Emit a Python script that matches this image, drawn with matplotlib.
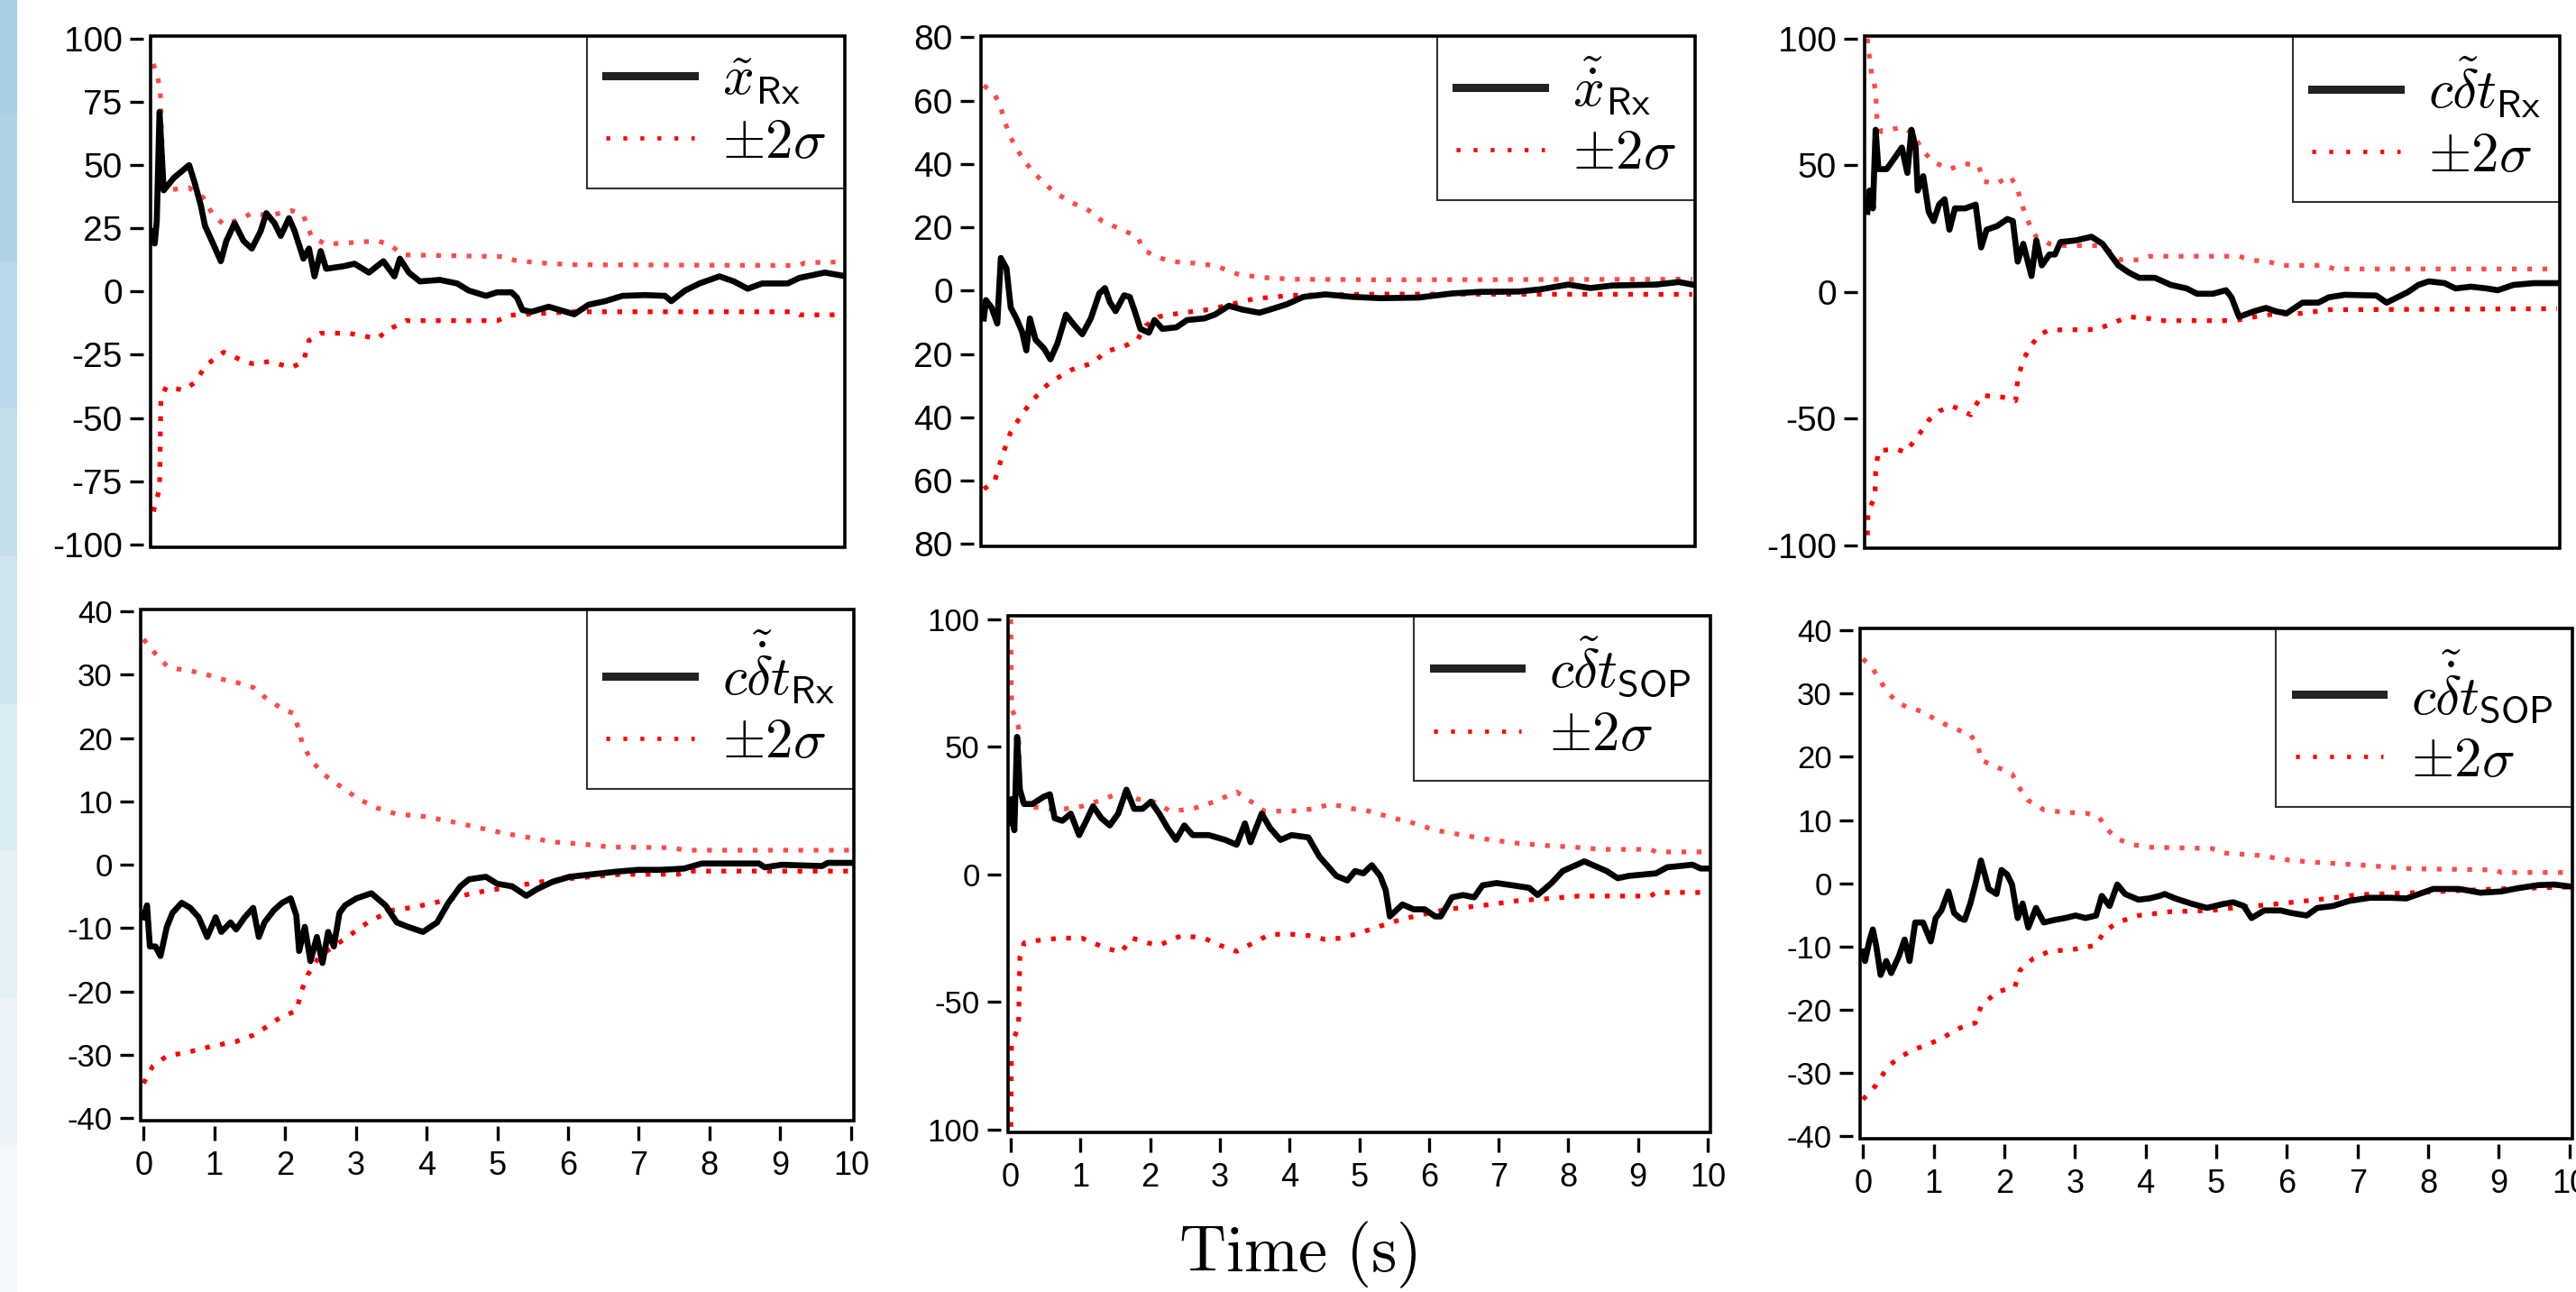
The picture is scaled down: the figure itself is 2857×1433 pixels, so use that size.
import numpy as np
import matplotlib
matplotlib.use("Agg")
import matplotlib.pyplot as plt
from matplotlib.patches import Rectangle
from matplotlib.lines import Line2D

plt.rcParams['mathtext.fontset'] = 'cm'
plt.rcParams['font.family'] = ['Liberation Sans', 'DejaVu Sans']

# ---- panel 1: position error ----
p1_t = [0, 0.02, 0.05, 0.09, 0.15, 0.3, 0.52, 0.6, 0.69, 0.75, 0.85, 0.98, 1.06, 1.18, 1.31, 1.43,
        1.56, 1.64, 1.76, 1.85, 1.97, 2.05, 2.18, 2.26, 2.34, 2.43, 2.51, 2.76, 2.92, 3.13, 3.34, 3.5,
        3.58, 3.71, 3.87, 4.16, 4.41, 4.58, 4.83, 4.99, 5.2, 5.28, 5.36, 5.49, 5.74, 5.99, 6.11, 6.32,
        6.56, 6.81, 7.14, 7.43, 7.52, 7.72, 7.93, 8.22, 8.43, 8.63, 8.84, 9.21, 9.38, 9.75, 10.0]
p1_err = [24, 19, 28, 71, 40, 45, 50, 43, 34, 26, 20, 12, 20, 27, 20, 17, 24, 31, 27, 22, 29, 24,
          13, 17, 6, 16, 9, 10, 11, 7.5, 12, 6, 13, 7.5, 4, 4.6, 3.2, 0.4, -1.7, -0.3, -0.3, -2.4,
          -7.3, -8, -6, -8, -9, -5.2, -3.8, -1.7, -1.4, -1.7, -3.8, 0.4, 3.2, 6, 4, 1.1, 3.2, 3.2,
          5.4, 7.5, 6.3]
p1_up_t = [0, 0.05, 0.1, 0.15, 0.52, 0.73, 0.85, 1.02, 1.27, 1.43, 1.68, 2.01, 2.18, 2.3, 2.51,
           2.92, 3.25, 3.42, 3.63, 5.07, 5.24, 5.57, 6.07, 9.38, 9.46, 10.0]
p1_up = [90, 86, 80, 40, 41, 37, 31, 26.5, 28.6, 31, 30, 32, 30, 21.5, 18.7, 19.4, 20, 18.7, 14.5,
         13.8, 12.4, 11.4, 10.6, 10.3, 11.4, 11.7]
p1_lo_t = [0, 0.09, 0.11, 0.19, 0.44, 0.6, 0.77, 1.02, 1.27, 1.43, 1.68, 2.01, 2.18, 2.26, 2.43,
           2.84, 3.25, 3.42, 3.67, 5.0, 5.16, 6.07, 9.3, 9.38, 10.0]
p1_lo = [-87, -78, -42, -37.6, -39, -36, -29, -24, -27, -28.5, -27.7, -30, -27.7, -19.3, -16.5,
         -16.5, -18.6, -15, -11.5, -11.5, -9.4, -8, -8, -9.2, -9.2]

# ---- panel 2: velocity error ----
p2_t = [0, 0.03, 0.11, 0.19, 0.24, 0.32, 0.38, 0.46, 0.54, 0.6, 0.65, 0.73, 0.85, 0.94, 1.04, 1.16,
        1.28, 1.39, 1.51, 1.63, 1.71, 1.78, 1.86, 1.98, 2.06, 2.13, 2.21, 2.33, 2.41, 2.52, 2.72,
        2.87, 3.11, 3.26, 3.46, 3.65, 3.89, 4.04, 4.28, 4.51, 4.82, 5.21, 5.6, 6.14, 6.61, 7.0, 7.55,
        7.86, 8.25, 8.56, 8.87, 9.49, 9.81, 10.0]
p2_err = [-8.8, -3, -5.4, -10.4, 10.3, 7, -5.4, -8.8, -13, -18.9, -8.8, -15.5, -18.3, -21.7, -16.6,
          -7.6, -11, -13.8, -8.8, -0.9, 0.8, -3.7, -6.5, -1.5, -2, -6.5, -12.1, -13.3, -9.3, -12.1,
          -11.6, -9.3, -8.8, -7.6, -4.8, -6, -7, -6, -4.3, -2, -1.2, -2, -2.4, -2.2, -0.9, -0.4,
          -0.3, 0.4, 1.9, 0.8, 1.6, 1.9, 2.7, 1.9]
p2_up_t = [0, 0.15, 0.23, 0.3, 0.42, 0.58, 0.73, 0.85, 1.0, 1.24, 1.47, 1.67, 1.94, 2.17, 2.25,
           2.41, 2.64, 2.95, 3.26, 3.57, 3.89, 4.35, 5.6, 10.0]
p2_up = [64.8, 62, 58.7, 53, 46.3, 40.7, 36.7, 34, 31, 27.8, 25.5, 22, 19.3, 17, 13, 10.9, 9.2,
         8.7, 7.9, 5.3, 4.2, 3.6, 3.4, 3.6]
p2_lo_t = [0, 0.15, 0.27, 0.38, 0.54, 0.69, 0.93, 1.24, 1.55, 1.71, 2.02, 2.17, 2.29, 2.48, 2.8,
           3.18, 3.5, 3.81, 4.35, 5.6, 10.0]
p2_lo = [-62.7, -60.4, -51.5, -44.7, -39, -34.6, -29, -25, -22.8, -19.4, -17.2, -15.5, -11, -8.2,
         -7, -6, -4.3, -2.6, -1.5, -1.1, -1.2]

# ---- panel 3: receiver clock bias error ----
p3_t = [0, 0.03, 0.08, 0.12, 0.16, 0.28, 0.39, 0.5, 0.58, 0.64, 0.7, 0.73, 0.81, 0.89, 0.96, 1.04,
        1.12, 1.19, 1.27, 1.42, 1.57, 1.65, 1.73, 1.88, 2.03, 2.11, 2.18, 2.26, 2.38, 2.45, 2.53,
        2.64, 2.72, 2.8, 3.03, 3.25, 3.41, 3.56, 3.64, 3.79, 3.94, 4.17, 4.4, 4.63, 4.78, 5.01, 5.2,
        5.28, 5.39, 5.62, 5.78, 5.93, 6.08, 6.31, 6.54, 6.69, 6.92, 7.38, 7.53, 7.84, 7.99, 8.14,
        8.37, 8.53, 8.75, 8.98, 9.14, 9.37, 9.67, 10.0]
p3_err = [31.6, 40, 33, 64, 48.5, 48.5, 52.7, 57, 47, 64, 57, 40, 45.7, 31.6, 28, 34.5, 36.6, 24.6,
          33, 33, 34.5, 17.6, 24.6, 26, 28.8, 28, 12, 19, 6.3, 20.4, 10.5, 14.8, 14.8, 19.7, 20.4,
          21.8, 19, 13.4, 10.5, 7.7, 5.6, 5.6, 2.8, 1.4, -0.7, -0.7, 0.7, -2.1, -9.8, -7.5, -6.3,
          -7.7, -8.4, -4.2, -4.2, -2.1, -1.1, -1.4, -4.2, 0, 2.8, 4.2, 3.5, 1.4, 2.1, 1.4, 0.7, 2.8,
          3.5, 3.5]
p3_up_t = [0, 0.05, 0.12, 0.14, 0.2, 0.5, 0.66, 0.81, 0.96, 1.19, 1.42, 1.61, 1.69, 1.88, 2.07,
           2.18, 2.22, 2.3, 2.38, 2.45, 2.64, 2.87, 3.33, 3.56, 3.67, 3.94, 4.09, 5.39, 5.55, 5.85,
           6.0, 6.62, 6.77, 10.0]
p3_up = [100, 88, 79.5, 68, 63.3, 65, 62.6, 55.5, 51.3, 48.5, 50.6, 50, 43.6, 42.9, 45.7, 40.8,
         35.9, 30.2, 24.6, 21.8, 19, 18.3, 18.3, 15.5, 12.7, 12.7, 14.1, 14.1, 12.7, 11.7, 10.5,
         10.5, 9.1, 9.1]
p3_lo_t = [0, 0.01, 0.11, 0.12, 0.16, 0.43, 0.55, 0.73, 0.89, 1.04, 1.23, 1.5, 1.65, 1.96, 2.15,
           2.18, 2.26, 2.38, 2.49, 2.64, 3.33, 3.56, 3.79, 4.09, 4.25, 5.32, 5.62, 5.85, 6.31, 6.69,
           10.0]
p3_lo = [-96, -86.5, -81, -71, -62.6, -62, -63.3, -57, -50.6, -47, -45, -48.5, -40.8, -41.5,
         -42.9, -34.5, -26.7, -21, -16.9, -15, -14.8, -12.2, -9.8, -10.5, -11.3, -11.3, -9.8, -8.9,
         -8.4, -7, -6.6]

# ---- panel 4: receiver clock drift error ----
p4_t = [0, 0.05, 0.09, 0.17, 0.24, 0.33, 0.41, 0.54, 0.66, 0.78, 0.9, 1.02, 1.1, 1.23, 1.31, 1.43,
        1.55, 1.63, 1.71, 1.84, 1.96, 2.08, 2.16, 2.2, 2.28, 2.36, 2.45, 2.53, 2.61, 2.69, 2.77,
        2.85, 3.01, 3.22, 3.42, 3.58, 3.74, 3.95, 4.15, 4.31, 4.48, 4.6, 4.84, 5.0, 5.21, 5.41,
        5.57, 5.78, 6.02, 6.34, 6.67, 6.99, 7.32, 7.64, 7.89, 8.7, 8.78, 9.02, 9.59, 9.67, 10.0]
p4_err = [-8.3, -6.4, -12.9, -12.9, -14.4, -9.8, -7.6, -6, -6.8, -8.3, -11.4, -8.3, -10.6, -9.1,
          -10.2, -8.3, -6.8, -11.4, -9.1, -7.2, -6, -5.3, -8, -13.6, -9.8, -15.2, -11.4, -15.5,
          -10.6, -12.9, -7.6, -6.4, -5.3, -4.5, -6.4, -9.1, -9.8, -10.6, -9.1, -6, -3.4, -2.3, -1.9,
          -3, -3.4, -4.9, -3.8, -2.7, -1.9, -1.5, -1.1, -0.8, -0.8, -0.6, 0.2, 0.2, -0.4, 0, -0.2,
          0.3, 0.3]
p4_up_t = [0, 0.17, 0.33, 0.49, 0.82, 1.06, 1.31, 1.55, 1.71, 1.96, 2.12, 2.2, 2.24, 2.36, 2.53,
           2.77, 3.01, 3.26, 3.58, 3.99, 4.4, 4.8, 5.13, 5.45, 5.78, 6.18, 6.59, 7.48, 7.64, 10.0]
p4_up = [35.6, 33.3, 31.4, 30.9, 30.3, 29.4, 28.8, 28, 26.5, 24.6, 23.9, 21.2, 19.3, 16.7, 14.4,
         12.5, 10.6, 9.1, 8, 7.6, 6.7, 5.7, 4.9, 4.3, 3.6, 3.3, 2.8, 2.7, 2.3, 2.3]
p4_lo_t = [0, 0.13, 0.33, 0.66, 0.98, 1.31, 1.55, 1.71, 1.96, 2.16, 2.24, 2.32, 2.49, 2.69, 2.93,
           3.17, 3.5, 3.82, 4.23, 4.64, 5.13, 5.61, 6.1, 6.75, 7.56, 7.72, 10.0]
p4_lo = [-34.5, -31.8, -30.2, -29.5, -28.6, -27.9, -26.9, -25.8, -23.9, -23.1, -19.7, -17.4,
         -14.4, -12.9, -11, -9.1, -7.2, -6.7, -5.7, -4.5, -3.6, -2.7, -2.1, -1.5, -1.5, -1.0, -1.0]

# ---- panel 5: SOP clock bias error ----
p5_t = [0, 0.01, 0.05, 0.09, 0.13, 0.19, 0.31, 0.47, 0.56, 0.63, 0.74, 0.86, 0.98, 1.1, 1.18, 1.3,
        1.42, 1.54, 1.66, 1.77, 1.89, 2.01, 2.13, 2.25, 2.37, 2.49, 2.61, 2.84, 3.08, 3.24, 3.36,
        3.44, 3.6, 3.72, 3.87, 4.03, 4.27, 4.43, 4.55, 4.67, 4.83, 4.94, 5.06, 5.18, 5.3, 5.38,
        5.44, 5.62, 5.78, 5.94, 6.09, 6.17, 6.33, 6.49, 6.65, 6.77, 6.97, 7.2, 7.44, 7.56, 7.76,
        7.92, 8.23, 8.39, 8.55, 8.71, 8.87, 9.1, 9.26, 9.42, 9.58, 9.78, 9.9, 10.0]
p5_err = [20, 29.5, 17.3, 53.9, 33.2, 27.6, 27.6, 30.4, 31.4, 22, 21, 23.8, 15.4, 22, 26.7, 22,
          19.2, 23.8, 33.2, 25.7, 25.7, 28.5, 23.8, 18.2, 13.5, 19.2, 15.4, 15.4, 13.5, 11.6, 20,
          12.6, 23.8, 18.2, 13.5, 15.4, 14.5, 6.9, 3.2, -0.6, -2.4, 1.3, 0.4, 3.6, -0.6, -6.2, -16.5,
          -11.8, -13.7, -13.7, -16.5, -16.5, -9, -8.1, -9, -4.3, -3.4, -4.3, -5.3, -8.1, -3.4, 1.3,
          5.1, 3.2, 1.3, -1.5, -0.6, 0, 0.4, 2.8, 3.2, 3.8, 2.3, 2.3]
p5_up_t = [0, 0.01, 0.07, 0.11, 0.13, 0.23, 0.55, 0.78, 1.02, 1.34, 1.58, 1.82, 2.05, 2.29, 2.61,
           2.92, 3.24, 3.4, 3.64, 4.03, 4.35, 4.59, 4.91, 5.14, 5.46, 5.78, 6.09, 6.49, 6.89, 7.28,
           7.68, 8.07, 8.47, 9.18, 9.26, 10.0]
p5_up = [100, 65, 61.4, 57.7, 29.5, 26.7, 25.7, 25.7, 26.7, 29.5, 32.3, 29.5, 28.5, 24.8, 25.7,
         28.5, 32.3, 29.5, 24.8, 24.8, 25.7, 27.6, 25.7, 24.8, 22.3, 20.1, 17.3, 15.4, 13.5, 12.2,
         11.3, 10.7, 9.8, 9.8, 8.8, 8.8]
p5_lo_t = [0, 0.01, 0.07, 0.11, 0.13, 0.19, 0.39, 0.71, 1.02, 1.34, 1.58, 1.74, 1.97, 2.13, 2.45,
           2.77, 3.0, 3.24, 3.48, 3.72, 4.03, 4.27, 4.51, 4.75, 4.99, 5.3, 5.62, 5.94, 6.25, 6.57,
           6.89, 7.28, 7.68, 8.15, 9.18, 9.26, 10.0]
p5_lo = [-99, -66, -62.5, -59.7, -32.5, -26.9, -25.9, -25, -25, -28.7, -30.6, -25, -26.9, -27.8,
         -24, -25, -27.8, -30.2, -26.9, -23.5, -23.5, -24, -25.5, -25, -23.1, -20.3, -17.5, -15.6,
         -13.7, -12.8, -11.8, -10.3, -9.6, -8.5, -8.5, -7.1, -7.1]

# ---- panel 6: SOP clock drift error ----
p6_t = [0, 0.03, 0.09, 0.14, 0.19, 0.25, 0.33, 0.4, 0.51, 0.59, 0.66, 0.74, 0.85, 0.96, 1.03, 1.11,
        1.21, 1.29, 1.37, 1.44, 1.52, 1.59, 1.67, 1.78, 1.89, 1.96, 2.04, 2.11, 2.19, 2.26, 2.34,
        2.45, 2.56, 2.71, 2.86, 3.01, 3.15, 3.3, 3.38, 3.49, 3.6, 3.71, 3.9, 4.05, 4.2, 4.27, 4.42,
        4.64, 4.87, 5.09, 5.24, 5.39, 5.5, 5.68, 5.91, 6.06, 6.28, 6.43, 6.65, 6.88, 7.17, 7.47,
        7.69, 7.92, 8.07, 8.44, 8.74, 9.03, 9.26, 9.55, 9.78, 10.0]
p6_err = [-10.8, -12.3, -9.2, -7.3, -10, -14.5, -12.3, -14.2, -11.5, -8.9, -12.3, -6.2, -6.2, -9.2,
          -5.5, -4.3, -1.3, -4.7, -5.5, -5.8, -3.2, -0.2, 3.6, -0.9, -1.7, 2.1, 1.4, -0.2, -5.5,
          -3.2, -7, -3.9, -6.2, -5.8, -5.5, -5.1, -5.5, -5.1, -2, -3.6, -0.2, -1.7, -2.6, -2.4, -2,
          -1.7, -2.4, -3.2, -3.9, -3.3, -3, -3.6, -5.5, -4.3, -4.3, -4.7, -5.1, -3.9, -3.6, -2.8,
          -2.3, -2.3, -2.4, -1.5, -0.9, -0.9, -1.5, -1.3, -0.8, -0.3, -0.2, -0.5]
p6_up_t = [0, 0.14, 0.33, 0.48, 0.62, 0.85, 1.07, 1.29, 1.52, 1.63, 1.67, 1.89, 2.11, 2.22, 2.34,
           2.56, 2.86, 3.15, 3.34, 3.45, 3.6, 3.82, 4.05, 4.94, 5.09, 5.61, 5.83, 6.06, 6.43, 7.02,
           7.77, 8.96, 9.03, 10.0]
p6_up = [35.5, 33.9, 30.5, 28.6, 27.9, 27.1, 25.6, 24.5, 23.5, 21.8, 19.5, 18.4, 17.3, 15, 13.1,
         11.6, 11.2, 11.1, 10.5, 8.6, 7, 6.1, 5.7, 5.5, 4.8, 4.4, 4, 3.6, 3.3, 2.9, 2.3, 2.1, 1.7,
         1.7]
p6_lo_t = [0, 0.18, 0.36, 0.55, 0.77, 1.07, 1.37, 1.59, 1.67, 1.89, 2.15, 2.22, 2.41, 2.63, 3.01,
           3.3, 3.41, 3.6, 3.9, 4.35, 4.94, 5.24, 5.83, 6.43, 7.02, 7.77, 8.96, 10.0]
p6_lo = [-34.2, -32, -28.9, -27.3, -26.1, -24.8, -22.9, -22.1, -19.5, -17.2, -16.4, -13.8, -11.9,
         -10.8, -10.4, -9.8, -7.7, -6.2, -5.1, -4.5, -4.3, -3.9, -3.3, -2.6, -1.8, -1.5, -0.9, -0.6]

legend_labels = [r'$\tilde{x}_{\mathsf{Rx}}$', r'$\tilde{\dot{x}}_{\mathsf{Rx}}$',
                 r'$c\tilde{\delta}t_{\mathsf{Rx}}$', r'$c\tilde{\dot{\delta}}t_{\mathsf{Rx}}$',
                 r'$c\tilde{\delta}t_{\mathsf{SOP}}$', r'$c\tilde{\dot{\delta}}t_{\mathsf{SOP}}$']
sigma_label = r'$\pm 2\sigma$'

ytick_vals = [[100, 75, 50, 25, 0, -25, -50, -75, -100],
              [80, 60, 40, 20, 0, -20, -40, -60, -80],
              [100, 50, 0, -50, -100],
              [40, 30, 20, 10, 0, -10, -20, -30, -40],
              [100, 50, 0, -50, -100],
              [40, 30, 20, 10, 0, -10, -20, -30, -40]]
ytick_text = [['100', '75', '50', '25', '0', '-25', '-50', '-75', '-100'],
              ['80', '60', '40', '20', '0', '20', '40', '60', '80'],
              ['100', '50', '0', '-50', '-100'],
              ['40', '30', '20', '10', '0', '-10', '-20', '-30', '-40'],
              ['100', '50', '0', '-50', '100'],
              ['40', '30', '20', '10', '0', '-10', '-20', '-30', '-40']]
xtick_vals = list(range(11))

panels = [(p1_t, p1_err, p1_up_t, p1_up, p1_lo_t, p1_lo),
          (p2_t, p2_err, p2_up_t, p2_up, p2_lo_t, p2_lo),
          (p3_t, p3_err, p3_up_t, p3_up, p3_lo_t, p3_lo),
          (p4_t, p4_err, p4_up_t, p4_up, p4_lo_t, p4_lo),
          (p5_t, p5_err, p5_up_t, p5_up, p5_lo_t, p5_lo),
          (p6_t, p6_err, p6_up_t, p6_up, p6_lo_t, p6_lo)]

# axes boxes (pixels: left, right, top, bottom) and y limits
W, H = 2857, 1433
boxes_px = [(167, 937, 40, 607), (1088, 1880, 40, 606), (2068, 2839, 40, 608),
            (156, 947, 676, 1243), (1118, 1897, 683, 1256), (2063, 2853, 697, 1263)]
ylims = [(-101.1, 101), (-80.8, 80.4), (-101.1, 101), (-40.4, 40.3), (-101.2, 101.4), (-40.4, 40.3)]

fig = plt.figure(figsize=(W / 100, H / 100), dpi=100)

# banded light-blue strip down the left edge
strip = fig.add_axes([0, 0, 19 / W, 1])
strip_edges = [0, 126, 290, 453, 617, 780, 943, 1106, 1270, 1433]
strip_cols = ['#a8cfe2', '#afd3e5', '#b8d9e9', '#c3dfec', '#cfe5f0', '#d9ebf3',
              '#e3f0f6', '#ecf4f9', '#f3f8fb']
for k, c in enumerate(strip_cols):
    strip.axhspan(strip_edges[k], strip_edges[k + 1], color=c, lw=0)
strip.set_xlim(0, 1)
strip.set_ylim(H, 0)
strip.set_axis_off()

dots = (0, (1.0, 2.2))
for i, (t, err, ut, up, lt, lo) in enumerate(panels):
    l, r, top, bot = boxes_px[i]
    ax = fig.add_axes([l / W, 1 - bot / H, (r - l) / W, (bot - top) / H])
    ax.plot(ut, up, color='#ff4a4a', lw=3.8, ls=dots, zorder=2)
    ax.plot(lt, lo, color='#ff0000', lw=3.8, ls=dots, zorder=2)
    ax.plot(t, err, color='black', lw=4.8, zorder=3)
    ax.set_xlim(-0.04, 10.04)
    ax.set_ylim(*ylims[i])

    for s in ax.spines.values():
        s.set_color('none')
    ax.spines['left'].set_position(('outward', 5.5))
    ax.spines['bottom'].set_position(('outward', 4.5))
    ax.add_patch(Rectangle((0, 0), 1, 1, transform=ax.transAxes, fill=False,
                           lw=2.6, ec='black', clip_on=False, zorder=6))

    bottom_row = i >= 3
    ax.set_yticks(ytick_vals[i])
    ax.set_yticklabels(ytick_text[i])
    ax.tick_params(axis='y', direction='out', length=11, width=2.4, pad=6,
                   labelsize=25 if bottom_row else 28)
    if bottom_row:
        ax.set_xticks(xtick_vals)
        ax.set_xticklabels([str(v) for v in xtick_vals])
        ax.tick_params(axis='x', direction='out', length=11.5, width=2.4, pad=8, labelsize=26)
    else:
        ax.set_xticks([])

    handles = [Line2D([], [], color='#222222', lw=6.5),
               Line2D([], [], color='#ff0000', lw=3.4, ls=(0, (0.9, 3.1)))]
    leg = ax.legend(handles, [legend_labels[i], sigma_label], loc='upper right', fontsize=44,
                    fancybox=False, edgecolor='#333333', framealpha=1, borderaxespad=0,
                    handlelength=1.6, handletextpad=0.5, labelspacing=0.2, borderpad=0.35)
    leg.get_frame().set_linewidth(1.5)
    leg.set_zorder(5)

fig.text(1439 / W, 0.016, r'$\mathrm{Time\ (s)}$', ha='center', va='baseline', fontsize=52)

fig.savefig('out.png', dpi=100)
